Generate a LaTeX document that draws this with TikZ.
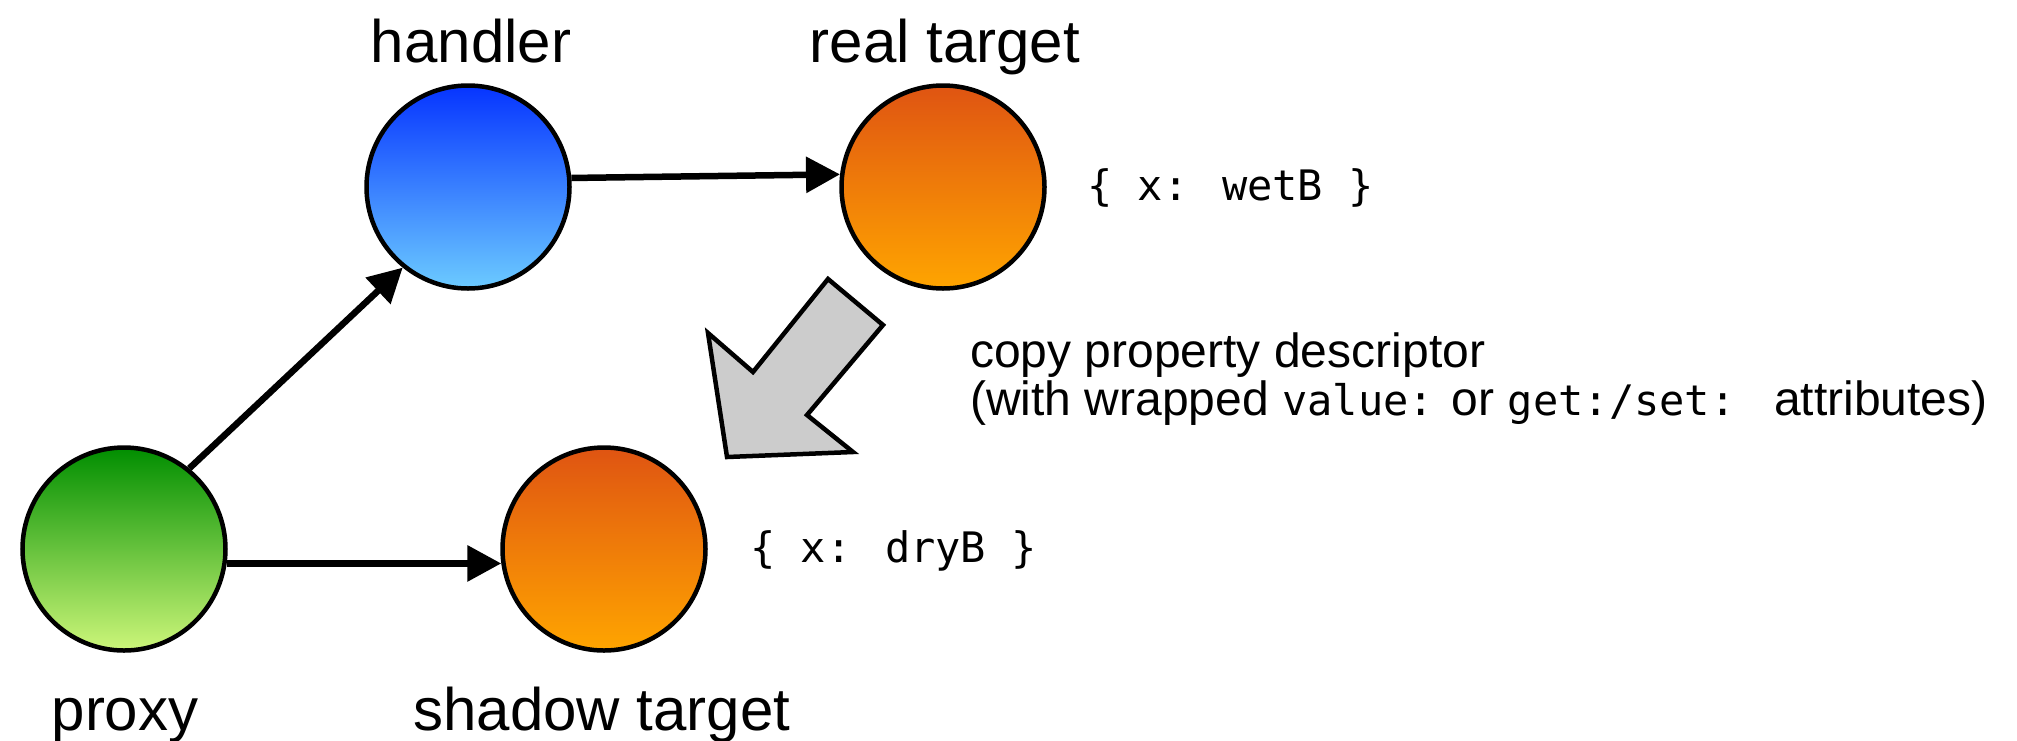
\documentclass[tikz,border=0pt]{standalone}
\usepackage{fontspec}
\setmainfont{Liberation Sans}
\newfontfamily\codefont{DejaVu Sans Mono}
\usetikzlibrary{arrows.meta}

\definecolor{handlerTop}{HTML}{0634FF}
\definecolor{handlerBot}{HTML}{6CCBFF}
\definecolor{targetTop}{HTML}{DF5412}
\definecolor{targetBot}{HTML}{FFA500}
\definecolor{proxyTop}{HTML}{008E00}
\definecolor{proxyBot}{HTML}{CDF67A}
\definecolor{copyGray}{HTML}{CCCCCC}

\newcommand{\codesize}{\fontsize{42}{50}\codefont}

\begin{document}
\begin{tikzpicture}[x=1pt, y=-1pt,
  ball/.style={circle, draw=black, line width=4.5pt, minimum size=203pt, inner sep=0pt},
  bluefill/.style={top color=handlerTop, bottom color=handlerBot},
  orangefill/.style={top color=targetTop, bottom color=targetBot},
  greenfill/.style={top color=proxyTop, bottom color=proxyBot},
  objlabel/.style={font=\fontsize{60}{72}\selectfont, anchor=base, inner sep=0pt},
  codetext/.style={font=\codesize, anchor=base west, inner sep=0pt},
  captext/.style={font=\fontsize{48}{56}\selectfont, anchor=base west, inner sep=0pt},
  link/.style={line width=6.5pt, -{Triangle[length=34pt, width=35pt]}}]

  % canvas
  \fill[white] (0,0) rectangle (2017,740);
  \useasboundingbox (0,0) rectangle (2017,740);

  % objects
  \node[ball, bluefill]   (handler) at (468,187) {};
  \node[ball, orangefill] (real)    at (943,187) {};
  \node[ball, greenfill]  (proxy)   at (124,549) {};
  \node[ball, orangefill] (shadow)  at (604,549) {};

  % object names
  \node[objlabel] (handlerName) at (471,62)  {handler};
  \node[objlabel] (realName)    at (945,62)  {real target};
  \node[objlabel] (proxyName)   at (125,730) {proxy};
  \node[objlabel] (shadowName)  at (602,730) {shadow target};

  % property values
  \node[codetext] (wet) at (1087,200) {\{ x: wetB \}};
  \node[codetext] (dry) at (750,562)  {\{ x: dryB \}};

  % references
  \draw[link] (proxy.51) -- (handler.231);
  \draw[link] (handler.5) -- (real.173);
  \draw[link] (proxy.-8) -- (shadow.188);

  % copy step
  \draw[fill=copyGray, line width=4.5pt, line join=miter]
    (828,279) -- (883,325) -- (807,415) -- (853,452) -- (727,457)
    -- (708,333) -- (753,372) -- cycle;

  \node[captext] (capA) at (970,367) {copy property descriptor};
  \node[captext] (capB) at (970,415)
    {(with wrapped {\codesize value:} or {\codesize get:/set:\ }\ attributes)};
\end{tikzpicture}
\end{document}
